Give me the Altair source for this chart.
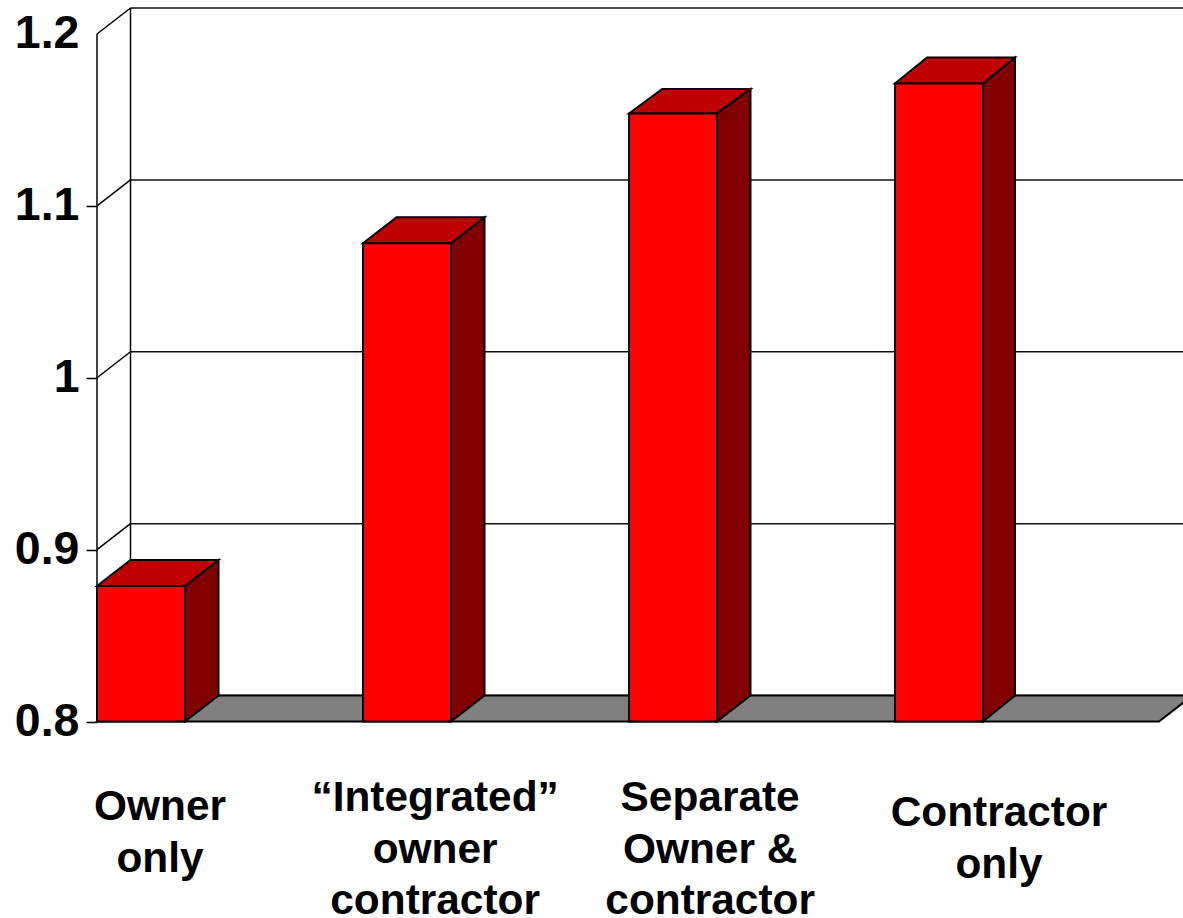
import altair as alt
import pandas as pd

# Values read per category
categories = ["Owner only", "“Integrated” owner contractor", "Separate Owner & contractor", "Contractor only"]
values = [0.8788, 1.0782, 1.1538, 1.1712]
tick_values = [0.8, 0.9, 1.0, 1.1, 1.2]
label_lines = [
    ["Owner", "only"],
    ["“Integrated”", "owner", "contractor"],
    ["Separate", "Owner &", "contractor"],
    ["Contractor", "only"],
]

# Layout of the pseudo-3D box, in axis units (one x unit is one category slot)
BASE = 0.8
BAR_W = 88 / 266
DEPTH_X = 33.5 / 266
DEPTH_Y = 26 / 1720
BAR_DEPTH_X = [33.5 / 266, 33.5 / 266, 33.5 / 266, 32 / 266]
BAR_DEPTH_Y = [26 / 1720, 26 / 1720, 24.5 / 1720, 26 / 1720]
X_MAX = 1086 / 266
FLOOR_END = 1062 / 266
Y_MAX = 1.2 + DEPTH_Y
LABEL_X = [0.237, 1.271, 2.305, 3.391]
LABEL_TOP = [0.8 - 85.5 / 1720, 0.8 - 76.5 / 1720, 0.8 - 76.5 / 1720, 0.8 - 91.5 / 1720]
LINE_STEP = 51.7 / 1720
TEXT_FONT = "Liberation Sans"

x_scale = alt.Scale(domain=[0, X_MAX], nice=False, zero=False)
y_scale = alt.Scale(domain=[BASE, Y_MAX], nice=False, zero=False)

# Value axis shared by every layer so that Vega-Lite can merge it;
# the topmost value carries a label but no tick
y_axis = alt.Axis(
    values=tick_values,
    format=".1~f",
    title=None,
    domain=False,
    grid=False,
    ticks=True,
    tickSize=11,
    tickWidth=1.5,
    tickColor="black",
    tickOpacity={"condition": {"test": "datum.value > 1.15", "value": 0}, "value": 1},
    labelFont=TEXT_FONT,
    labelFontWeight="bold",
    labelFontSize=46.5,
    labelColor="black",
    labelPadding=7,
    labelFlush=False,
    labelOverlap=False,
    labelBaseline="middle",
)


def X(field):
    return alt.X(field, type="quantitative", scale=x_scale, axis=None)


def Y(field):
    return alt.Y(field, type="quantitative", scale=y_scale, axis=y_axis)


# Bar faces
front = pd.DataFrame(
    {"x": [i for i in range(4)], "x2": [i + BAR_W for i in range(4)], "y": values, "y2": [BASE] * 4}
)
side_rows, top_rows = [], []
for i, v in enumerate(values):
    right = i + BAR_W
    dx, dy = BAR_DEPTH_X[i], BAR_DEPTH_Y[i]
    side_rows += [
        {"bar": i, "x": right, "y": v, "y2": BASE},
        {"bar": i, "x": right + dx, "y": v + dy, "y2": BASE + DEPTH_Y},
    ]
    top_rows += [
        {"bar": i, "y": v, "x": i, "x2": right},
        {"bar": i, "y": v + dy, "x": i + dx, "x2": right + dx},
    ]
side = pd.DataFrame(side_rows)
top = pd.DataFrame(top_rows)

# Floor and back wall
floor = pd.DataFrame(
    [
        {"y": BASE, "x": 0, "x2": FLOOR_END},
        {"y": BASE + DEPTH_Y, "x": DEPTH_X, "x2": FLOOR_END + DEPTH_X},
    ]
)
grid = pd.DataFrame(
    {"y": [t + DEPTH_Y for t in tick_values], "x": [DEPTH_X] * 5, "x2": [X_MAX] * 5}
)
diagonals = pd.DataFrame(
    [
        row
        for t in tick_values
        for row in ({"t": t, "x": 0, "y": t}, {"t": t, "x": DEPTH_X, "y": t + DEPTH_Y})
    ]
)
walls = pd.DataFrame(
    [
        {"x": 0, "y": BASE, "y2": 1.2},
        {"x": DEPTH_X, "y": BASE + DEPTH_Y, "y2": 1.2 + DEPTH_Y},
    ]
)

# Category captions, one row per text line
text_rows = [
    {"x": LABEL_X[i], "y": LABEL_TOP[i] - n * LINE_STEP, "text": line}
    for i, lines in enumerate(label_lines)
    for n, line in enumerate(lines)
]
captions = pd.DataFrame(text_rows)

grid_layer = alt.Chart(grid).mark_rule(color="#111111", strokeWidth=1.5).encode(
    x=X("x"), x2="x2", y=Y("y")
)
diagonal_layer = alt.Chart(diagonals).mark_line(color="black", strokeWidth=1.5).encode(
    x=X("x"), y=Y("y"), detail="t:N"
)
wall_layer = alt.Chart(walls).mark_rule(color="black", strokeWidth=1.5).encode(
    x=X("x"), y=Y("y"), y2="y2"
)
floor_layer = alt.Chart(floor).mark_area(
    orient="horizontal", color="#808080", stroke="black", strokeWidth=2
).encode(y=Y("y"), x=X("x"), x2="x2")
side_layer = alt.Chart(side).mark_area(
    color="#800000", stroke="black", strokeWidth=2
).encode(x=X("x"), y=Y("y"), y2="y2", detail="bar:N")
top_layer = alt.Chart(top).mark_area(
    orient="horizontal", color="#BF0000", stroke="black", strokeWidth=2
).encode(y=Y("y"), x=X("x"), x2="x2", detail="bar:N")
front_layer = alt.Chart(front).mark_rect(
    color="#FF0000", stroke="black", strokeWidth=2
).encode(x=X("x"), x2="x2", y=Y("y"), y2="y2")
caption_layer = alt.Chart(captions).mark_text(
    font=TEXT_FONT, fontWeight="bold", fontSize=42.4, color="black", align="center", baseline="middle"
).encode(x=X("x"), y=Y("y"), text="text:N")

chart = (
    alt.layer(
        grid_layer,
        diagonal_layer,
        wall_layer,
        floor_layer,
        side_layer,
        top_layer,
        front_layer,
        caption_layer,
    )
    .properties(
        width=1086,
        height=713.5,
        autosize=alt.AutoSizeParams(type="none"),
        padding={"left": 97, "top": 8, "right": 0, "bottom": 196.5},
        background="white",
    )
    .configure_view(stroke=None)
)

chart.save("out.html", embed_options={"renderer": "svg", "actions": False})
